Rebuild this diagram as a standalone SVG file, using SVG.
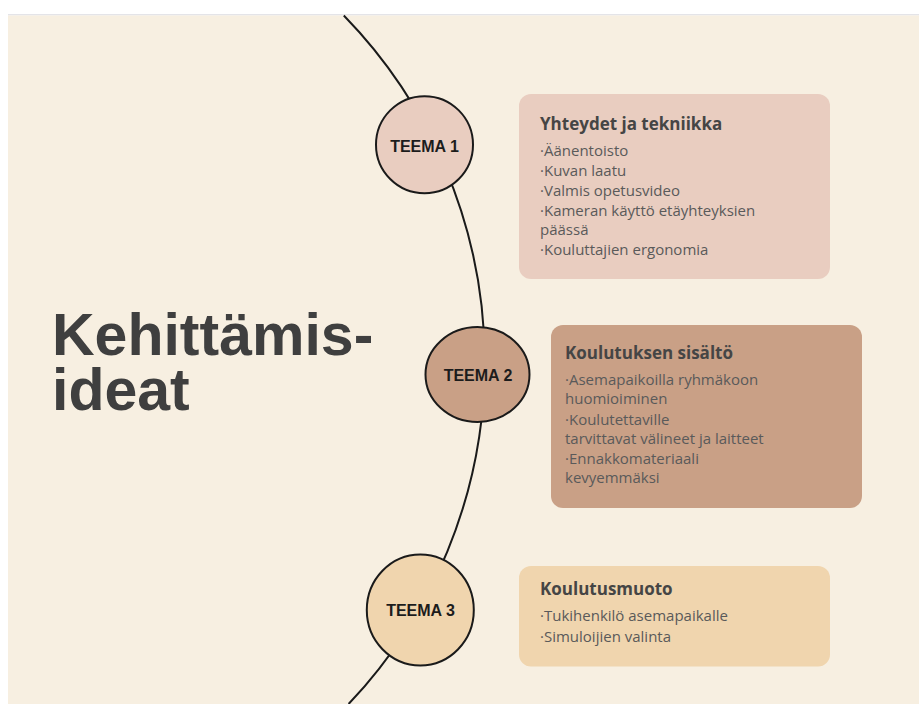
<svg xmlns="http://www.w3.org/2000/svg" width="919" height="704" viewBox="0 0 919 704">
  <style>
    .bg { fill: #f7efe1; }
    .node circle, .node ellipse { stroke: #1a1a1a; stroke-width: 2; }
    .tlabel { font-family: "Liberation Sans", Arial, sans-serif; font-weight: bold; font-size: 16px; fill: #1c1c1c; text-anchor: middle; }
    .box-title { font-family: "Open Sans", "Noto Sans", sans-serif; font-weight: bold; font-size: 17px; fill: #454545; }
    .box-item { font-family: "Open Sans", "Noto Sans", sans-serif; font-size: 15px; fill: #5a5a5a; }
    .big { font-family: "Liberation Sans", Arial, sans-serif; font-weight: bold; font-size: 59px; fill: #3f3f3f; }
    .arc { fill: none; stroke: #1a1a1a; stroke-width: 2; }
    .c1 { fill: #e9cdc0; }
    .c2 { fill: #c9a086; }
    .c3 { fill: #f0d5ae; }
  </style>
  <rect x="0" y="0" width="919" height="704" fill="#ffffff"/>
  <rect x="8" y="14" width="911" height="1.5" fill="#e4e4e8"/>
  <rect class="bg" x="8" y="15.5" width="911" height="688.5"/>

  <g id="connectors">
    <path class="arc" d="M343.8,15.5 A497,497 0 0 1 348.6,704"/>
  </g>

  <g id="title">
    <text class="big" x="52" y="355">Kehittämis-</text>
    <text class="big" x="52" y="410">ideat</text>
  </g>

  <g id="teema1" class="node">
    <circle class="c1" cx="424.5" cy="144.7" r="48.5"/>
    <text class="tlabel" x="424.5" y="151.5">TEEMA 1</text>
  </g>
  <g id="teema2" class="node">
    <ellipse class="c2" cx="477.5" cy="374.5" rx="52" ry="47.5"/>
    <text class="tlabel" x="478" y="380.5">TEEMA 2</text>
  </g>
  <g id="teema3" class="node">
    <ellipse class="c3" cx="420.3" cy="610" rx="53.5" ry="55.5"/>
    <text class="tlabel" x="420.5" y="616">TEEMA 3</text>
  </g>

  <g id="box1">
    <rect class="c1" x="519" y="94" width="311" height="185" rx="12"/>
    <text class="box-title" x="540" y="129.5">Yhteydet ja tekniikka</text>
    <text class="box-item" x="540" y="156">·Äänentoisto</text>
    <text class="box-item" x="540" y="175.5">·Kuvan laatu</text>
    <text class="box-item" x="540" y="195.5">·Valmis opetusvideo</text>
    <text class="box-item" x="540" y="215.5">·Kameran käyttö etäyhteyksien</text>
    <text class="box-item" x="540" y="235">päässä</text>
    <text class="box-item" x="540" y="255">·Kouluttajien ergonomia</text>
  </g>

  <g id="box2">
    <rect class="c2" x="551" y="325" width="311" height="183" rx="12"/>
    <text class="box-title" x="565" y="358.5">Koulutuksen sisältö</text>
    <text class="box-item" x="565" y="384.5">·Asemapaikoilla ryhmäkoon</text>
    <text class="box-item" x="565" y="404">huomioiminen</text>
    <text class="box-item" x="565" y="424.5">·Koulutettaville</text>
    <text class="box-item" x="565" y="443.5">tarvittavat välineet ja laitteet</text>
    <text class="box-item" x="565" y="463.5">·Ennakkomateriaali</text>
    <text class="box-item" x="565" y="483">kevyemmäksi</text>
  </g>

  <g id="box3">
    <rect class="c3" x="519" y="566" width="311" height="100.5" rx="12"/>
    <text class="box-title" x="540" y="594.5">Koulutusmuoto</text>
    <text class="box-item" x="540" y="621">·Tukihenkilö asemapaikalle</text>
    <text class="box-item" x="540" y="641.5">·Simuloijien valinta</text>
  </g>
</svg>
